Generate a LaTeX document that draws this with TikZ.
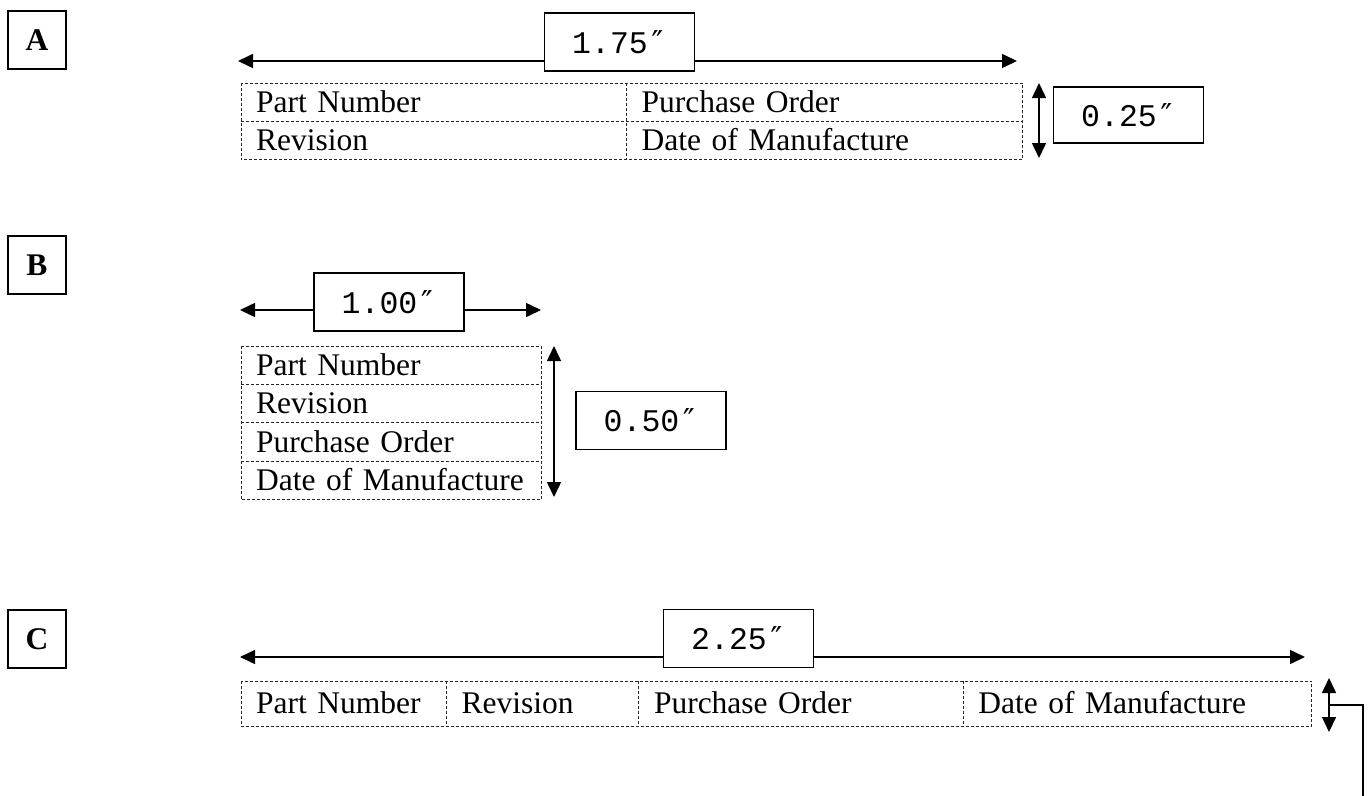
\documentclass[tikz,border=0pt]{standalone}
\usepackage{fontspec}
\setmainfont{Liberation Serif}
\newfontfamily\dimfont{Liberation Mono}
\newfontfamily\primefont{DejaVu Sans Mono}
\newcommand\inchmark{{\primefont ″}}
\usetikzlibrary{arrows.meta}
\usetikzlibrary{positioning}

\tikzset{
  tag/.style={draw, line width=1.5pt, minimum size=58pt, inner sep=0pt,
    font=\fontsize{31.5}{36}\selectfont\bfseries},
  dimbox/.style={draw, fill=white, line width=1.5pt, minimum width=150pt,
    minimum height=58pt, inner sep=0pt, font=\fontsize{31.5}{36}\dimfont},
  cell/.style={minimum height=38pt, inner xsep=15pt, inner ysep=0pt,
    text height=20pt, text depth=0pt, align=left, anchor=north west,
    font=\fontsize{31.5}{36}\selectfont},
  tblline/.style={draw=black!85, line width=1pt, dash pattern=on 3pt off 2pt},
  dim/.style={{Triangle[length=15pt,width=14pt]}-{Triangle[length=15pt,width=14pt]},
    line width=1.5pt},
}

\begin{document}
\begin{tikzpicture}[x=1pt, y=-1pt]
  \useasboundingbox (0,0) rectangle (1370,795);

  % Kennzeichen
  \node[tag] (tA) at (37,40)  {A};
  \node[tag] (tB) at (37,265) {B};
  \node[tag] (tC) at (37,639) {C};

  % Variante A
  \node[cell, text width=355pt] (a11) at (241,83) {Part Number};
  \node[cell, text width=366pt, right=0pt of a11] (a12) {Purchase Order};
  \node[cell, text width=355pt, below=0pt of a11] (a21) {Revision};
  \node[cell, text width=366pt, right=0pt of a21] (a22) {Date of Manufacture};
  \draw[tblline] (a11.north west) rectangle (a22.south east);
  \draw[tblline] (a11.south west) -- (a12.south east);
  \draw[tblline] (a11.north east) -- (a21.south east);

  \coordinate (wA1) at (238,61);
  \coordinate (wA2) at (1017,61);
  \coordinate (hA1) at (1039,83);
  \coordinate (hA2) at (1039,158);
  \draw[dim] (wA1) -- (wA2);
  \draw[dim] (hA1) -- (hA2);
  \node[dimbox] (dA) at (619.5,42) {1.75\inchmark};
  \node[dimbox, minimum height=56pt] (dA2) at (1128.5,115) {0.25\inchmark};

  % Variante B
  \node[cell, text width=270pt] (b1) at (241,346) {Part Number};
  \node[cell, text width=270pt, below=0pt of b1] (b2) {Revision};
  \node[cell, text width=270pt, below=0pt of b2] (b3) {Purchase Order};
  \node[cell, text width=270pt, below=0pt of b3] (b4) {Date of Manufacture};
  \draw[tblline] (b1.north west) rectangle (b4.south east);
  \draw[tblline] (b1.south west) -- (b1.south east);
  \draw[tblline] (b2.south west) -- (b2.south east);
  \draw[tblline] (b3.south west) -- (b3.south east);

  \coordinate (wB1) at (240,310);
  \coordinate (wB2) at (541,310);
  \coordinate (hB1) at (554,346);
  \coordinate (hB2) at (554,497);
  \draw[dim] (wB1) -- (wB2);
  \draw[dim] (hB1) -- (hB2);
  \node[dimbox] (dB) at (389,302) {1.00\inchmark};
  \node[dimbox] (dB2) at (651,420.5) {0.50\inchmark};

  % Variante C
  \node[cell, minimum height=45pt, text width=175pt] (c1) at (241,681) {Part Number};
  \node[cell, minimum height=45pt, text width=162pt, right=0pt of c1] (c2) {Revision};
  \node[cell, minimum height=45pt, text width=294pt, right=0pt of c2] (c3) {Purchase Order};
  \node[cell, minimum height=45pt, text width=318pt, right=0pt of c3] (c4) {Date of Manufacture};
  \draw[tblline] (c1.north west) rectangle (c4.south east);
  \draw[tblline] (c1.north east) -- (c1.south east);
  \draw[tblline] (c2.north east) -- (c2.south east);
  \draw[tblline] (c3.north east) -- (c3.south east);

  \coordinate (wC1) at (240,657);
  \coordinate (wC2) at (1305,657);
  \coordinate (hC1) at (1329,678);
  \coordinate (hC2) at (1329,732);
  \coordinate (hCm) at (1329,705);
  \coordinate (cut) at (1363,800);
  \draw[dim] (wC1) -- (wC2);
  \draw[dim] (hC1) -- (hC2);
  \draw[line width=1.5pt] (hCm) -| (cut);
  \node[dimbox] (dC) at (738.5,638.5) {2.25\inchmark};
\end{tikzpicture}
\end{document}
